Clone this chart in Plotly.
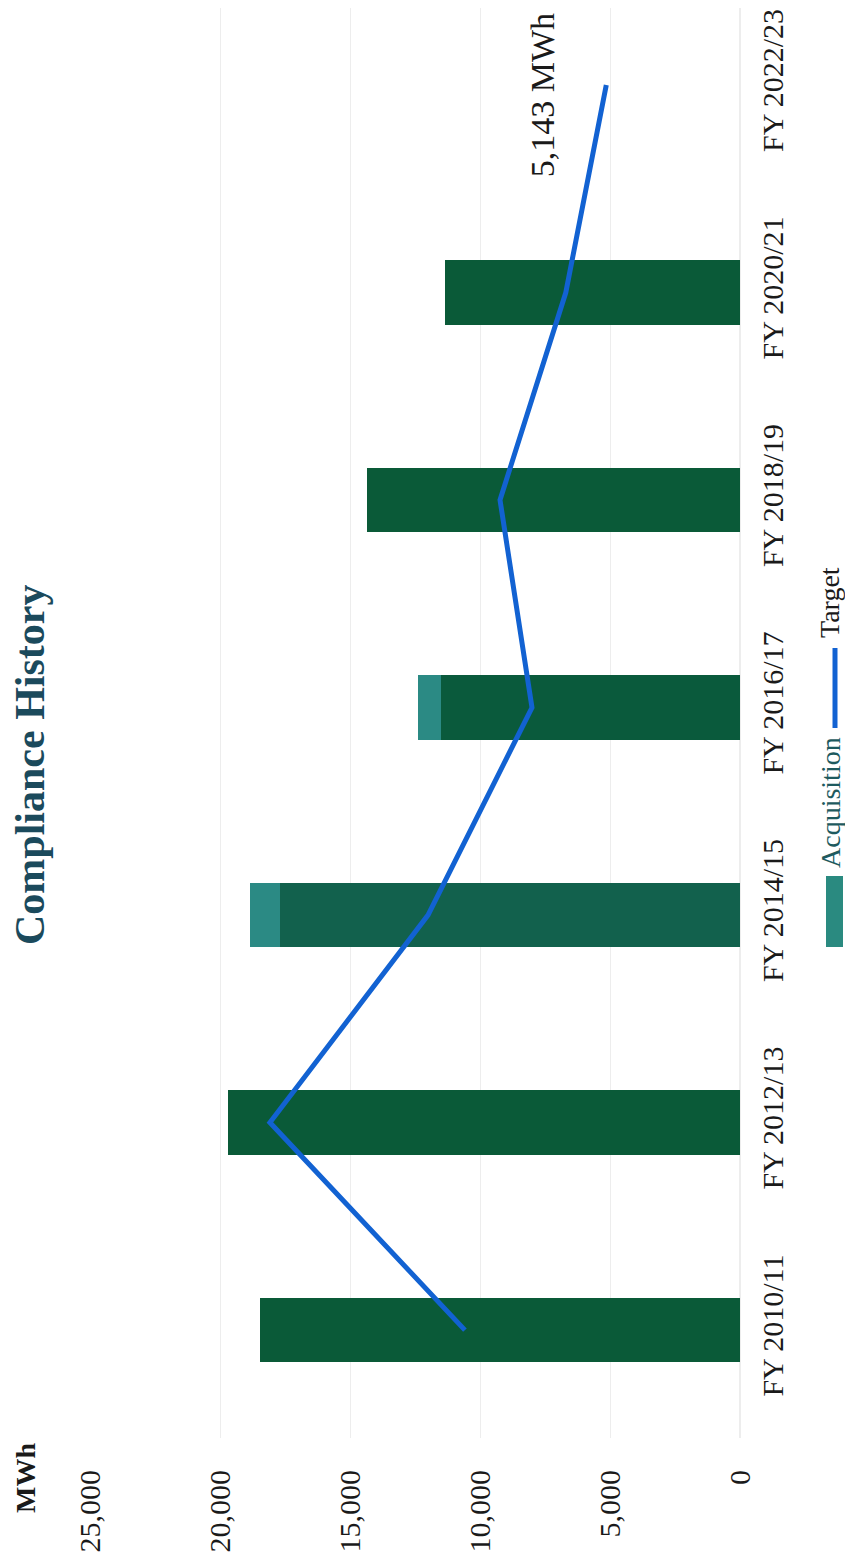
import plotly.graph_objects as go

categories = ["FY 2010/11", "FY 2012/13", "FY 2014/15", "FY 2016/17",
              "FY 2018/19", "FY 2020/21", "FY 2022/23"]
compliance = [18450, 19700, 17700, 11500, 14350, 11350, None]
acquisition = [0, 0, 1150, 900, 0, 0, None]
target = [10580, 18080, 12000, 8000, 9230, 6700, 5143]
value_ticks = [0, 5000, 10000, 15000, 20000, 25000]

# page has an 8px body margin; figure sized so it fits the 853x1564 window
OFF = 8
W, H = 853 - OFF, 1564 - 2 * OFF
L, R, T, B = 90 - OFF, W - (740 - OFF), 0, H - (1438 - OFF)
pw, ph = W - L - R, H - T - B


def px(xp):
    return (xp - OFF - L) / pw


def py(yp):
    return (H - B - (yp - OFF)) / ph


serif = "Liberation Serif"
base_colors = ["#0a5a38", "#0a5a38", "#12614d", "#0a5a3c", "#0a5a38", "#0a5a38", "#0a5a38"]

fig = go.Figure()
fig.add_trace(go.Bar(
    y=categories, x=compliance, orientation="h", name="Compliance",
    marker=dict(color=base_colors, line=dict(width=0)), width=0.31, showlegend=False))
fig.add_trace(go.Bar(
    y=categories, x=acquisition, orientation="h", name="Acquisition",
    marker=dict(color="#2b8a84", line=dict(width=0)), width=0.31, showlegend=False))
fig.add_trace(go.Scatter(
    y=categories, x=target, mode="lines", name="Target",
    line=dict(color="#1262d2", width=5), showlegend=False))

fig.update_layout(
    width=W, height=H, barmode="stack",
    paper_bgcolor="white", plot_bgcolor="white",
    margin=dict(l=L, r=R, t=T, b=B, autoexpand=False),
    font=dict(family=serif, color="#1a1a1a"),
    showlegend=False,
)
fig.update_xaxes(
    range=[25000, 0], tickvals=value_ticks, tickformat=",",
    tickangle=-90, tickfont=dict(size=30, family=serif, color="#1a1a1a"),
    showgrid=True, gridcolor="#ededed", gridwidth=1,
    zeroline=True, zerolinecolor="#ededed", showline=False,
    ticklabelstandoff=25,
)
fig.update_yaxes(
    range=[-0.52, 6.371], side="right", tickangle=-90,
    tickfont=dict(size=30, family=serif, color="#1a1a1a"),
    showgrid=False, showline=False, ticks="", ticklabelstandoff=12,
)

common = dict(showarrow=False, textangle=-90, xanchor="center", yanchor="middle")
annotations = [
    dict(text="<b>Compliance History</b>", x=px(30), y=py(765), xref="paper", yref="paper",
         font=dict(size=42, family=serif, color="#1b4a5c"), **common),
    dict(text="<b>MWh</b>", x=px(25), y=py(1478), xref="paper", yref="paper",
         font=dict(size=28, family=serif, color="#1a1a1a"), **common),
    dict(text="5,143 MWh", x=target[-1], y=categories[-1], xref="x", yref="y",
         xshift=-63, yshift=-10,
         font=dict(size=34, family=serif, color="#1a1a1a"), **common),
    dict(text="Acquisition", x=px(830), y=py(803), xref="paper", yref="paper",
         font=dict(size=28, family=serif, color="#1e5a5e"), **common),
    dict(text="Target", x=px(830), y=py(603), xref="paper", yref="paper",
         font=dict(size=28, family=serif, color="#1a1a1a"), **common),
]
fig.update_layout(annotations=annotations)

fig.add_shape(type="rect", xref="paper", yref="paper",
              x0=px(826), x1=px(843), y0=py(947), y1=py(876),
              fillcolor="#2a8a80", line=dict(width=0))
fig.add_shape(type="line", xref="paper", yref="paper",
              x0=px(835), x1=px(835), y0=py(728), y1=py(648),
              line=dict(color="#1262d2", width=5))

fig.write_html("out.html")
